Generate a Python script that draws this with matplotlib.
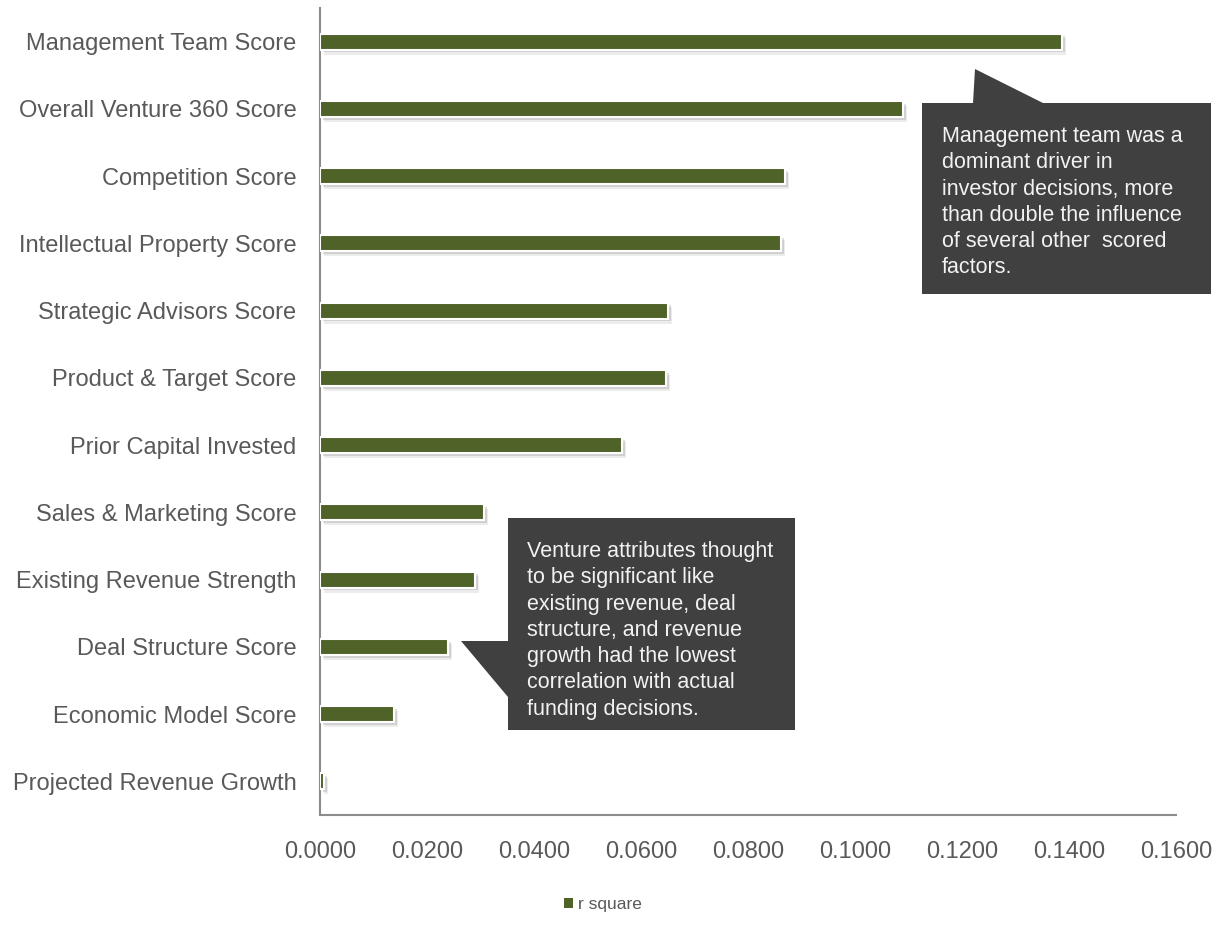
import matplotlib.pyplot as plt
import matplotlib.patheffects as pe
from matplotlib.patches import Polygon, Patch

plt.rcParams['font.family'] = ['Liberation Sans', 'DejaVu Sans']

# r square for each scored factor (top to bottom)
factors = [
    'Management Team Score',
    'Overall Venture 360 Score',
    'Competition Score',
    'Intellectual Property Score',
    'Strategic Advisors Score',
    'Product & Target Score',
    'Prior Capital Invested',
    'Sales & Marketing Score',
    'Existing Revenue Strength',
    'Deal Structure Score',
    'Economic Model Score',
    'Projected Revenue Growth',
]
r_square = [0.1387, 0.1090, 0.0869, 0.0862, 0.0650, 0.0647,
            0.0564, 0.0307, 0.0290, 0.0239, 0.0138, 0.0007]
x_ticks = [0.0, 0.02, 0.04, 0.06, 0.08, 0.10, 0.12, 0.14, 0.16]

note_top = ('Management team was a\ndominant driver in\ninvestor decisions, more\n'
            'than double the influence\nof several other  scored\nfactors.')
note_low = ('Venture attributes thought\nto be significant like\nexisting revenue, deal\n'
            'structure, and revenue\ngrowth had the lowest\ncorrelation with actual\n'
            'funding decisions.')

W, H = 1218, 932
bar_color = '#4f6228'
grey_text = '#595959'
box_color = '#404040'

fig = plt.figure(figsize=(W / 100, H / 100), dpi=100)
ax = fig.add_axes([320 / W, 1 - 815 / H, (1176 - 320) / W, (815 - 8) / H])

ypos = list(range(len(factors)))
bars = ax.barh(ypos, r_square, height=0.24, color=bar_color,
               edgecolor='white', linewidth=1.5, zorder=3)
for b in bars:
    b.set_path_effects([
        pe.SimplePatchShadow(offset=(3, -3.5), shadow_rgbFace='#808080', alpha=0.15),
        pe.SimplePatchShadow(offset=(2, -2), shadow_rgbFace='#808080', alpha=0.25),
        pe.Normal(),
    ])

ax.set_ylim(len(factors) - 0.5, -0.5)
ax.set_xlim(0, 0.16)
ax.set_yticks(ypos)
ax.set_yticklabels(factors)
ax.set_xticks(x_ticks)
ax.set_xticklabels([f'{v:.4f}' for v in x_ticks])
ax.tick_params(axis='y', length=0, pad=17, labelsize=17, labelcolor=grey_text)
ax.tick_params(axis='x', length=0, pad=19, labelsize=17, labelcolor=grey_text)

for side in ['top', 'right']:
    ax.spines[side].set_visible(False)
for side in ['left', 'bottom']:
    ax.spines[side].set_color('#8c8c8c')
    ax.spines[side].set_linewidth(1.5)


def px(x, y):
    return (x / W, 1 - y / H)


def callout(pts, text, tx, ty):
    poly = Polygon([px(x, y) for x, y in pts], closed=True,
                   facecolor=box_color, edgecolor='none',
                   transform=fig.transFigure, zorder=5)
    fig.patches.append(poly)
    fig.text(*px(tx, ty), text, color='#f2f2f2', fontsize=15.5,
             ha='left', va='top', linespacing=1.33, zorder=6)


# upper callout, pointer up towards the top bar
callout([(922, 103), (973, 103), (975, 69), (1043, 103),
         (1211, 103), (1211, 294), (922, 294)],
        note_top, 942, 126)

# lower callout, pointer left towards the deal structure bar
callout([(508, 518), (795, 518), (795, 730), (508, 730),
         (508, 697), (461, 641), (508, 641)],
        note_low, 527, 541)

fig.legend(handles=[Patch(facecolor=bar_color, label='r square')],
           loc='center', bbox_to_anchor=(603 / W, 1 - 905 / H), frameon=False,
           fontsize=12.5, handlelength=0.5, handleheight=0.5, handletextpad=0.3,
           labelcolor=grey_text)

fig.savefig('out.png', dpi=100)
